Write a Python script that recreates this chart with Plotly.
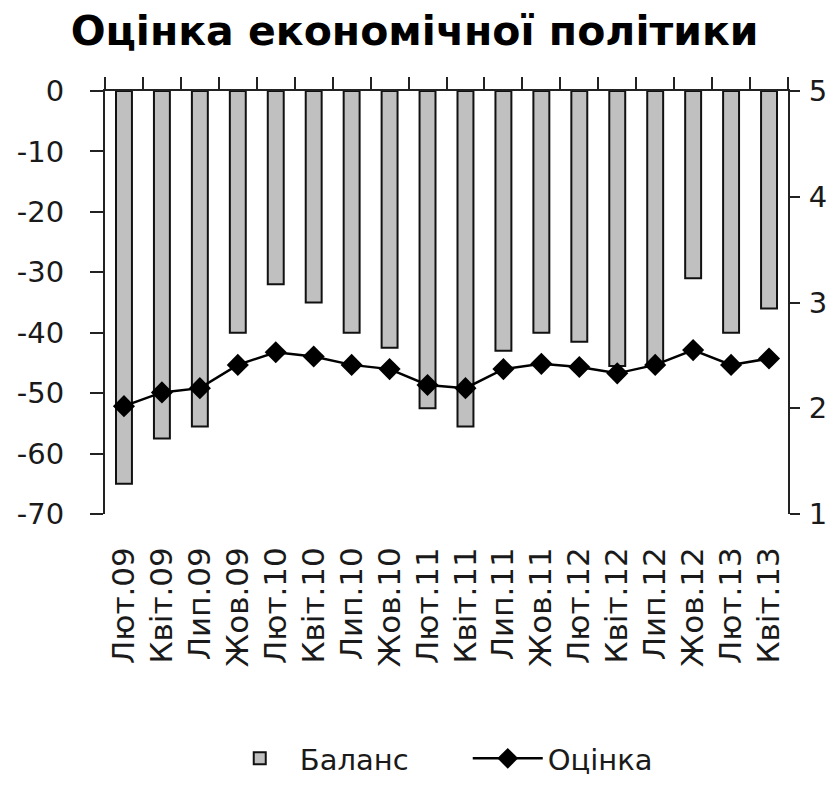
import plotly.graph_objects as go

categories = ["Лют.09", "Квіт.09", "Лип.09", "Жов.09", "Лют.10", "Квіт.10", "Лип.10", "Жов.10",
              "Лют.11", "Квіт.11", "Лип.11", "Жов.11", "Лют.12", "Квіт.12", "Лип.12", "Жов.12",
              "Лют.13", "Квіт.13"]
balance = [-65, -57.5, -55.5, -40, -32, -35, -40, -42.5, -52.5, -55.5, -43, -40, -41.5, -45.5, -45, -31, -40, -36]
score = [2.02, 2.15, 2.19, 2.41, 2.53, 2.49, 2.41, 2.37, 2.22, 2.19, 2.37, 2.42, 2.39, 2.33, 2.41, 2.55, 2.41, 2.47]
left_ticks = [0, -10, -20, -30, -40, -50, -60, -70]
right_ticks = [1, 2, 3, 4, 5]

FONT = "DejaVu Sans"
TXT = "#1a1a1a"
AX = "#222222"
n = len(categories)

fig = go.Figure()
fig.add_trace(go.Bar(
    x=categories, y=balance, name="Баланс",
    marker=dict(color="#c0c0c0", line=dict(color="#111111", width=2)),
    width=0.42, xaxis="x", yaxis="y",
))
fig.add_trace(go.Scatter(
    x=categories, y=score, name="Оцінка", mode="lines+markers",
    line=dict(color="#000000", width=2.5),
    marker=dict(symbol="diamond", size=17, color="#000000"),
    xaxis="x2", yaxis="y2",
))

tickfont = dict(family=FONT, size=29, color=TXT)
catfont = dict(family=FONT, size=31, color=TXT)

fig.update_layout(
    width=823, height=769,
    margin=dict(l=97, r=43, t=83, b=263, autoexpand=False),
    paper_bgcolor="white", plot_bgcolor="white",
    title=dict(text="<b>Оцінка економічної політики</b>", x=0.494, xanchor="center",
               y=0.970, yanchor="middle", automargin=False,
               font=dict(family=FONT, size=41, color="#000")),
    showlegend=True,
    legend=dict(orientation="h", x=0.168, xanchor="left", y=-0.578, yanchor="middle",
                font=dict(family=FONT, size=29, color=TXT), itemwidth=70,
                entrywidth=163, entrywidthmode="pixels",
                bgcolor="rgba(0,0,0,0)"),
    bargap=0.58,
    xaxis=dict(type="category", categoryorder="array", categoryarray=categories,
               range=[-0.5, n - 0.5], side="bottom", anchor="y", automargin=False,
               showline=False, ticks="", showgrid=False, zeroline=False,
               tickangle=-90, tickfont=catfont, ticklabelstandoff=26),
    xaxis2=dict(type="category", categoryorder="array", categoryarray=categories,
                range=[-0.5, n - 0.5], overlaying="x", side="top", anchor="y", automargin=False,
                showline=True, linecolor=AX, linewidth=2,
                ticks="outside", tickson="boundaries", ticklen=12, tickwidth=2, tickcolor=AX,
                showticklabels=False, showgrid=False, zeroline=False),
    xaxis3=dict(type="linear", range=[-0.5, n - 0.5], overlaying="x", side="top", anchor="y",
                automargin=False,
                showline=False, ticks="inside", tick0=0.5, dtick=1, ticklen=11, tickwidth=2,
                tickcolor=AX, showticklabels=False, showgrid=False, zeroline=False),
    yaxis=dict(range=[-70, 0], tickvals=left_ticks, ticktext=[str(v) for v in left_ticks],
               side="left", anchor="x", automargin=False,
               showline=True, linecolor=AX, linewidth=2, ticks="outside", ticklen=13,
               tickwidth=2, tickcolor=AX, showgrid=False, zeroline=False,
               tickfont=tickfont, ticklabelstandoff=20),
    yaxis2=dict(range=[1, 5], tickvals=right_ticks, ticktext=[str(v) for v in right_ticks],
                side="right", overlaying="y", anchor="x", automargin=False,
                showline=True, linecolor=AX, linewidth=2, ticks="outside", ticklen=10,
                tickwidth=2, tickcolor=AX, showgrid=False, zeroline=False,
                tickfont=tickfont, ticklabelstandoff=3),
    yaxis3=dict(range=[-70, 0], tickvals=left_ticks, side="left", overlaying="y", anchor="x",
                automargin=False,
                showline=False, ticks="inside", ticklen=8, tickwidth=2, tickcolor=AX,
                showticklabels=False, showgrid=False, zeroline=False),
    yaxis4=dict(range=[1, 5], tickvals=right_ticks, side="right", overlaying="y", anchor="x",
                automargin=False,
                showline=False, ticks="inside", ticklen=13, tickwidth=2, tickcolor=AX,
                showticklabels=False, showgrid=False, zeroline=False),
)

fig.write_html("out.html")
